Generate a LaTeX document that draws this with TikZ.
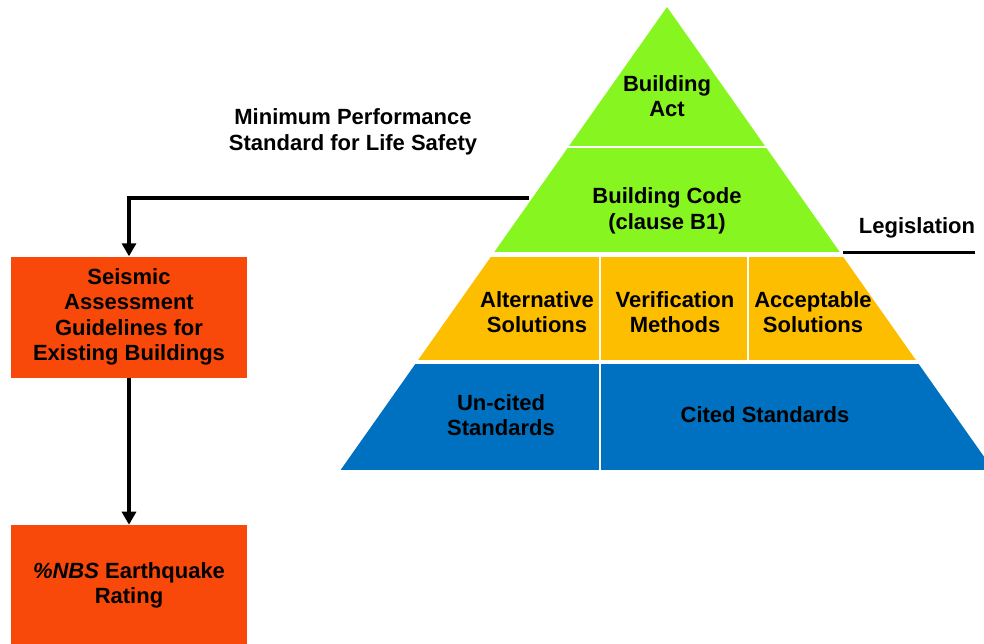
\documentclass[tikz,border=0pt]{standalone}
\usepackage{fontspec}
\setmainfont{Liberation Sans}
\usepackage{tikz}
\usetikzlibrary{positioning,arrows.meta}

\definecolor{actgreen}{RGB}{134,245,32}
\definecolor{solamber}{RGB}{253,190,0}
\definecolor{stdblue}{RGB}{0,112,192}
\definecolor{boxred}{RGB}{248,72,10}

\begin{document}
\begin{tikzpicture}[
    x=1pt, y=-1pt,
    every node/.style={font=\fontsize{22}{25.5}\selectfont\bfseries, align=center},
    label/.style={text=black, inner sep=0pt},
    guide/.style={rectangle, draw=none, fill=boxred, text=black,
        minimum width=236pt, minimum height=121pt},
    flow/.style={line width=3.2pt, -{Triangle[width=14pt,length=13pt]}},
    gap/.style={white, line width=2.5pt}
]
\useasboundingbox (0,0) rectangle (984,643);

% pyramid bands, cut out of one big triangle
\coordinate (apex) at (667,7);
\coordinate (baseL) at (340.6,470);
\coordinate (baseR) at (993.4,470);
\begin{scope}
    \clip (apex) -- (baseL) -- (baseR) -- cycle;
    \fill[actgreen] (300,0) rectangle (1000,252);
    \fill[solamber] (300,257) rectangle (1000,360);
    \fill[stdblue] (300,364) rectangle (1000,470);
    \draw[gap] (300,147) -- (1000,147);
    \draw[gap] (600,257) -- (600,470);
    \draw[gap] (748,257) -- (748,360);
\end{scope}

% texts in the pyramid
\node[label] (act) at (667,96) {Building\\Act};
\node[label] (code) at (667,211) {Building Code\\(clause B1)};
\node[label] (altsol) at (537,312) {Alternative\\Solutions};
\node[label] (verif) at (675,312) {Verification\\Methods};
\node[label] (accsol) at (813,312) {Acceptable\\Solutions};
\node[label] (uncited) at (501,415) {Un-cited\\Standards};
\node[label] (cited) at (765,415) {Cited Standards};

% legislation marker
\node[label] (legis) at (917,228) {Legislation};
\coordinate (legisL) at (843,252);
\draw[line width=3pt] (legisL) -- (legisL -| legis.east);

% left hand side
\node[label] (minperf) at (353,132) {Minimum Performance\\Standard for Life Safety};
\node[guide] (seismic) at (129,317) {Seismic\\Assessment\\Guidelines for\\Existing Buildings};
\node[guide, below=147pt of seismic] (rating) {\textit{\%NBS} Earthquake\\Rating};

\coordinate (codeEdge) at (529,198);
\draw[flow] (codeEdge) -| (seismic.north);
\draw[flow] (seismic.south) -- (rating.north);
\end{tikzpicture}
\end{document}
